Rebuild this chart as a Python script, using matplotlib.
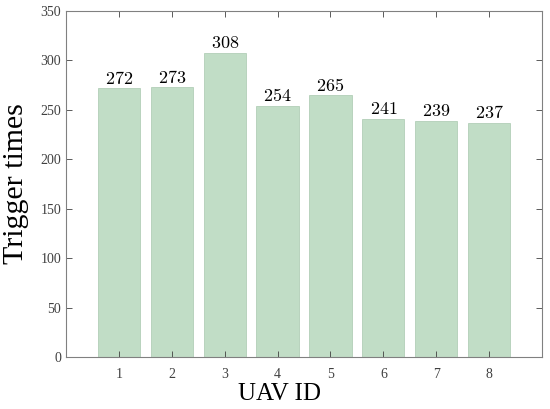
import matplotlib.pyplot as plt
import numpy as np

# Число срабатываний для каждого БПЛА
uav_ids = np.array([1, 2, 3, 4, 5, 6, 7, 8])
trigger_times = np.array([272, 273, 308, 254, 265, 241, 239, 237])

plt.rcParams.update({'font.family': 'Liberation Serif', 'mathtext.fontset': 'cm'})

fig = plt.figure(figsize=(5.5, 4.09), dpi=100)
ax = fig.add_axes([66 / 550, 1 - 357 / 409, 476 / 550, 346 / 409])

ax.bar(uav_ids, trigger_times, width=0.8, color='#c1ddc6', edgecolor='#a9c9af', linewidth=0.5)
for x, v in zip(uav_ids, trigger_times):
    ax.text(x, v + 0.5, f'${v}$', ha='center', va='bottom', fontsize=13)

ax.set_xlim(0, 9)
ax.set_ylim(0, 350)
ax.set_xticks(uav_ids)
ax.set_yticks(np.arange(0, 351, 50))
ax.tick_params(direction='in', top=True, right=True, colors='#404040', labelsize=10, length=4, width=0.6)
ax.tick_params(axis='x', pad=8)
for s in ax.spines.values():
    s.set_color('#808080')
    s.set_linewidth(0.8)

ax.set_xlabel('UAV ID', fontsize=18, labelpad=2)
ax.xaxis.set_label_coords(0.448, -0.075)
ax.set_ylabel('Trigger times', fontsize=21.5, labelpad=8)

fig.savefig('out.png', dpi=100)
